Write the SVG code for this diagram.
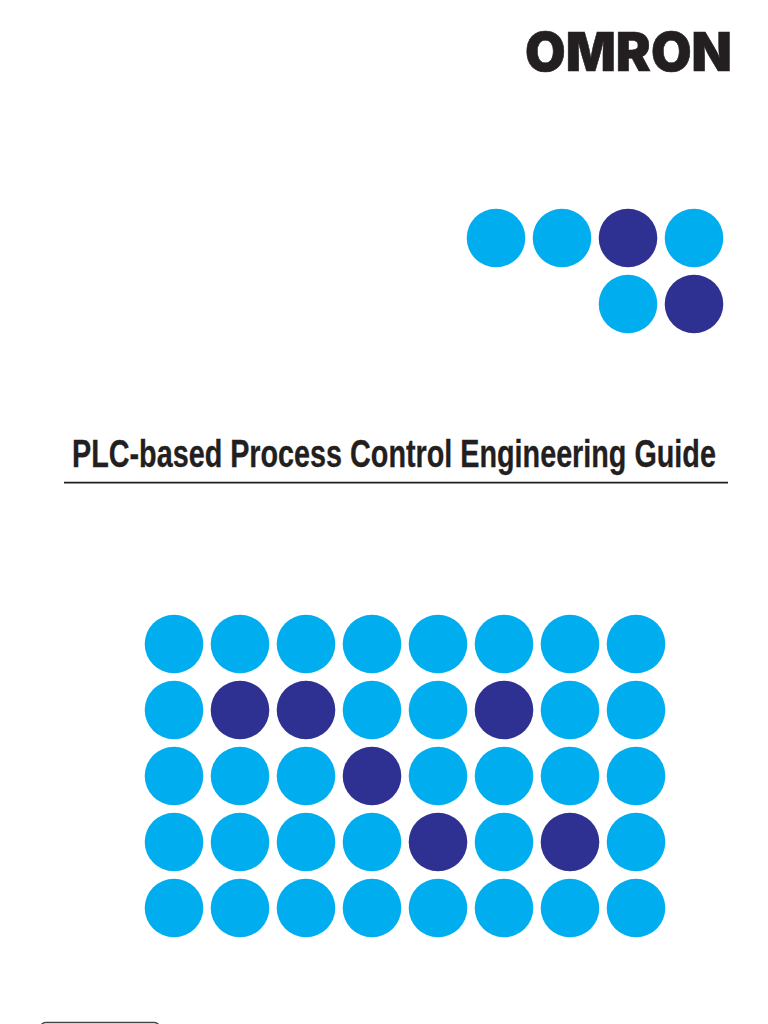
<svg xmlns="http://www.w3.org/2000/svg" width="768" height="1024" viewBox="0 0 768 1024">
<style>
.l{fill:#00aeef}.d{fill:#2e3192}
.t{font-family:"Liberation Sans",Arial,sans-serif;font-weight:700;fill:#231f20;stroke:#231f20;stroke-width:.3}
.logo{font-family:Inter,"DejaVu Sans",sans-serif;font-weight:900;fill:#231f20;stroke:#231f20;stroke-width:.6}
</style>
<defs><circle id="c" r="29.3"/></defs>
<rect width="768" height="1024" fill="#fff"/>
<text id="logo" class="logo" transform="translate(525,70.5) scale(.972,1)" font-size="54">OMRON</text>
<g id="top-dots">
<use href="#c" class="l" x="496" y="238"/><use href="#c" class="l" x="562" y="238"/><use href="#c" class="d" x="628" y="238"/><use href="#c" class="l" x="694" y="238"/>
<use href="#c" class="l" x="628" y="304"/><use href="#c" class="d" x="694" y="304"/>
</g>
<text id="title" class="t" transform="translate(72,467) scale(.757,1)" font-size="38">PLC-based Process Control Engineering Guide</text>
<line id="rule" x1="64" y1="482.7" x2="728" y2="482.7" stroke="#231f20" stroke-width="1.8"/>
<g id="grid-dots">
<use href="#c" class="l" x="174" y="644"/><use href="#c" class="l" x="240" y="644"/><use href="#c" class="l" x="306" y="644"/><use href="#c" class="l" x="372" y="644"/><use href="#c" class="l" x="438" y="644"/><use href="#c" class="l" x="504" y="644"/><use href="#c" class="l" x="570" y="644"/><use href="#c" class="l" x="636" y="644"/>
<use href="#c" class="l" x="174" y="710"/><use href="#c" class="d" x="240" y="710"/><use href="#c" class="d" x="306" y="710"/><use href="#c" class="l" x="372" y="710"/><use href="#c" class="l" x="438" y="710"/><use href="#c" class="d" x="504" y="710"/><use href="#c" class="l" x="570" y="710"/><use href="#c" class="l" x="636" y="710"/>
<use href="#c" class="l" x="174" y="776"/><use href="#c" class="l" x="240" y="776"/><use href="#c" class="l" x="306" y="776"/><use href="#c" class="d" x="372" y="776"/><use href="#c" class="l" x="438" y="776"/><use href="#c" class="l" x="504" y="776"/><use href="#c" class="l" x="570" y="776"/><use href="#c" class="l" x="636" y="776"/>
<use href="#c" class="l" x="174" y="842"/><use href="#c" class="l" x="240" y="842"/><use href="#c" class="l" x="306" y="842"/><use href="#c" class="l" x="372" y="842"/><use href="#c" class="d" x="438" y="842"/><use href="#c" class="l" x="504" y="842"/><use href="#c" class="d" x="570" y="842"/><use href="#c" class="l" x="636" y="842"/>
<use href="#c" class="l" x="174" y="908"/><use href="#c" class="l" x="240" y="908"/><use href="#c" class="l" x="306" y="908"/><use href="#c" class="l" x="372" y="908"/><use href="#c" class="l" x="438" y="908"/><use href="#c" class="l" x="504" y="908"/><use href="#c" class="l" x="570" y="908"/><use href="#c" class="l" x="636" y="908"/>
</g>
<rect id="badge" x="40.5" y="1022.5" width="119" height="30" rx="5" fill="none" stroke="#444" stroke-width="1.4"/>
</svg>
